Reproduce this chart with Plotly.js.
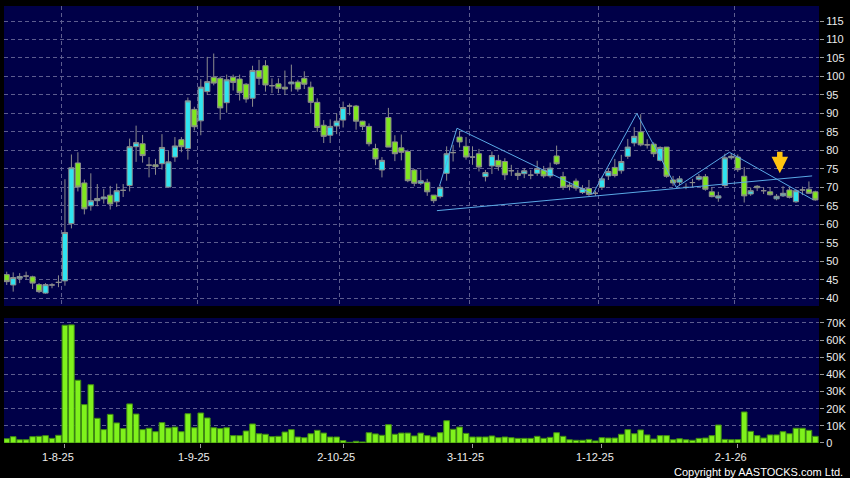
<!DOCTYPE html>
<html><head><meta charset="utf-8">
<script src="https://cdn.plot.ly/plotly-3.0.1.min.js"></script>
<style>html,body{margin:0;padding:0;background:#000;}#chart{width:850px;height:478px;}</style>
</head><body><div id="chart"></div>
<script>
// Trading sessions (HK), 21 Jul 2025 - 20 Jan 2026
const dates = [
'2025-07-21','2025-07-22','2025-07-23','2025-07-24','2025-07-25','2025-07-28','2025-07-29','2025-07-30','2025-07-31',
'2025-08-01','2025-08-04','2025-08-05','2025-08-06','2025-08-07','2025-08-08','2025-08-11','2025-08-12','2025-08-13','2025-08-14','2025-08-15',
'2025-08-18','2025-08-19','2025-08-20','2025-08-21','2025-08-22','2025-08-25','2025-08-26','2025-08-27','2025-08-28','2025-08-29',
'2025-09-01','2025-09-02','2025-09-03','2025-09-04','2025-09-05','2025-09-08','2025-09-09','2025-09-10','2025-09-11','2025-09-12',
'2025-09-15','2025-09-16','2025-09-17','2025-09-18','2025-09-19','2025-09-22','2025-09-23','2025-09-24','2025-09-25','2025-09-26',
'2025-09-29','2025-09-30',
'2025-10-02','2025-10-03','2025-10-06','2025-10-08','2025-10-09','2025-10-10','2025-10-13','2025-10-14','2025-10-15','2025-10-16',
'2025-10-17','2025-10-20','2025-10-21','2025-10-22','2025-10-23','2025-10-24','2025-10-27','2025-10-28','2025-10-30','2025-10-31',
'2025-11-03','2025-11-04','2025-11-05','2025-11-06','2025-11-07','2025-11-10','2025-11-11','2025-11-12','2025-11-13','2025-11-14',
'2025-11-17','2025-11-18','2025-11-19','2025-11-20','2025-11-21','2025-11-24','2025-11-25','2025-11-26','2025-11-27','2025-11-28',
'2025-12-01','2025-12-02','2025-12-03','2025-12-04','2025-12-05','2025-12-08','2025-12-09','2025-12-10','2025-12-11','2025-12-12',
'2025-12-15','2025-12-16','2025-12-17','2025-12-18','2025-12-19','2025-12-22','2025-12-23','2025-12-24','2025-12-29','2025-12-30',
'2025-12-31',
'2026-01-02','2026-01-05','2026-01-06','2026-01-07','2026-01-08','2026-01-09','2026-01-12','2026-01-13','2026-01-14','2026-01-15',
'2026-01-16','2026-01-19','2026-01-20'
];
const openP = [46.4,43.6,45.4,46.0,45.8,43.7,41.4,43.6,44.3,44.7,
60.2,76.6,71.2,65.0,66.4,66.9,67.9,66.1,69.2,70.5,
81.0,81.8,76.0,76.1,76.4,70.1,78.2,82.9,80.5,91.1,
88.0,95.9,99.8,99.5,92.9,99.8,99.3,97.9,94.1,101.6,
102.9,97.5,98.0,97.1,98.0,98.5,99.5,97.1,93.0,86.8,
84.1,86.6,88.2,92.0,92.0,87.9,86.5,80.5,74.7,88.9,
82.3,80.7,79.7,74.7,71.1,71.4,67.9,67.5,73.8,79.4,
83.6,81.1,78.2,79.1,72.9,75.8,77.3,77.0,74.5,73.8,
73.7,73.3,73.8,74.7,73.1,78.5,72.9,70.6,71.7,68.6,
69.7,68.4,70.0,73.1,75.4,74.5,78.4,82.0,85.0,81.5,
81.7,77.3,80.9,72.0,71.4,70.0,71.3,72.2,72.9,68.8,
67.1,70.5,78.0,78.2,73.0,68.2,70.3,69.1,68.8,66.9,
67.7,69.3,66.1,69.3,69.5,68.8];
const highP = [47.2,47.0,46.8,47.2,46.1,44.1,44.1,44.1,46.2,72.2,
78.9,79.5,72.1,73.8,70.9,69.6,70.4,71.0,70.9,83.2,
86.7,84.2,78.2,77.7,84.4,79.8,83.6,83.6,94.3,91.8,
99.3,105.3,106.2,100.0,100.5,100.5,100.5,98.2,102.9,104.5,
104.4,99.5,99.5,101.6,103.2,99.1,101.4,98.6,94.1,88.2,
88.4,90.0,93.2,92.7,92.3,88.0,87.3,81.8,78.2,91.5,
84.1,84.3,80.2,75.0,74.7,72.3,67.9,70.6,81.1,81.5,
85.3,83.6,81.1,80.4,74.7,79.7,78.8,77.9,76.1,74.7,
75.2,74.7,77.2,75.8,76.7,81.3,74.2,71.5,72.4,70.6,
72.0,69.1,72.9,75.2,77.7,78.8,83.1,86.3,89.8,83.0,
82.2,81.1,80.9,73.1,73.1,71.1,72.3,73.6,73.6,70.0,
68.8,79.1,79.3,78.9,75.5,70.0,70.6,70.0,70.0,68.2,
70.3,70.0,69.5,70.2,71.6,69.1];
const lowP = [43.6,41.8,44.1,45.0,42.5,41.4,41.2,42.7,43.0,43.4,
58.9,68.9,62.7,63.7,64.9,65.6,64.0,64.7,67.4,68.9,
76.9,76.7,72.7,73.4,74.8,70.1,76.9,79.5,77.5,85.4,
84.1,95.0,97.6,88.3,90.2,96.2,93.5,92.9,91.8,97.7,
95.9,95.5,95.5,95.0,95.9,95.9,96.6,90.0,85.0,82.0,
82.0,84.4,86.2,89.5,85.6,85.5,81.1,76.0,72.7,80.9,
77.1,77.3,71.4,70.3,70.6,67.7,65.7,67.0,71.8,77.0,
80.8,77.5,76.1,74.3,71.6,73.6,74.5,72.0,73.1,72.0,
72.5,72.2,73.1,72.5,72.5,76.1,69.3,69.2,69.1,68.2,
67.7,67.7,69.3,72.0,72.7,73.7,77.7,81.1,81.1,80.5,
78.2,77.0,72.6,70.4,70.6,69.5,70.0,71.8,69.1,67.3,
66.1,69.8,77.5,74.2,65.9,67.7,69.0,68.2,67.8,66.5,
67.4,67.0,65.8,67.9,68.2,66.4];
const closeP = [44.5,45.6,45.9,46.0,44.1,41.8,43.7,43.6,44.3,57.8,
75.3,70.1,64.2,66.4,67.0,67.4,65.5,69.1,69.2,81.0,
82.1,78.6,76.0,75.6,80.8,76.9,81.2,81.0,93.4,86.4,
97.1,98.6,98.2,91.5,99.1,98.4,95.6,93.9,101.6,99.5,
97.7,97.5,96.8,96.6,98.5,96.6,97.9,93.0,86.2,83.8,
86.5,87.9,91.6,92.0,87.9,86.5,81.8,77.7,77.3,80.9,
79.1,79.5,71.8,71.1,71.8,68.8,66.4,70.0,79.1,79.4,
82.3,78.2,78.2,75.5,74.0,78.6,75.6,73.4,74.5,73.2,
74.5,73.3,75.1,73.1,75.2,76.4,70.0,70.2,69.8,69.7,
68.1,68.4,72.3,74.3,73.2,77.0,80.9,83.8,81.5,81.5,
79.1,80.8,73.0,71.2,72.3,70.0,71.3,72.9,69.5,67.5,
67.7,78.0,78.4,74.8,67.7,69.1,69.9,69.1,68.0,67.6,
68.4,67.3,69.1,69.3,68.4,66.6];
// volume, thousands of shares
const volumeK = [2.5,3.7,1.9,1.9,3.7,3.9,4.3,2.7,4.5,68.7,
68.9,36.6,22.4,34.0,14.4,7.8,16.7,11.7,8.4,22.8,
16.9,7.8,8.6,6.6,11.9,8.8,9.3,6.6,17.1,8.9,
17.5,14.6,8.9,8.4,8.9,4.3,4.3,7.0,11.1,5.4,
5.1,3.7,3.9,6.4,7.8,3.5,3.1,5.4,7.4,5.8,
3.5,3.5,1.4,0.4,1.0,0.6,6.0,5.3,4.5,10.7,
5.1,5.8,5.8,4.1,5.8,4.3,3.5,6.0,13.0,8.0,
9.3,5.6,3.5,3.5,3.5,4.1,3.1,3.5,3.1,2.7,
2.7,2.7,3.9,2.7,3.3,6.0,3.9,1.9,1.6,1.6,
2.1,1.2,3.1,2.9,2.9,5.1,7.8,5.4,7.6,4.7,
2.3,4.3,4.3,1.9,2.5,1.9,1.6,2.7,2.9,4.3,
10.5,2.1,1.9,2.0,18.1,6.8,4.3,2.9,4.7,4.7,
6.6,5.4,8.6,8.6,7.4,3.9];
const tickDates = ['2025-08-01','2025-09-01','2025-10-02','2025-11-03','2025-12-01','2026-01-02'];
const tickLabels = ['1-8-25','1-9-25','2-10-25','3-11-25','1-12-25','2-1-26'];
const volTicksK = [0,10,20,30,40,50,60,70];
// drawn trend lines, positions in session index units
const supportIdx = [66.5, 124.5];
const supportPrice = [63.7, 73.1];
const zigzagIdx = [66.9, 69.6, 90.6, 97.4, 103.5, 111.7, 124.6];
const zigzagPrice = [70.4, 86.0, 68.2, 90.0, 70.0, 79.5, 66.7];
const arrowIdx = 119.5, arrowPrice = 73.8;

const N = dates.length;
const xRange = [-0.42, N - 1 + 0.56];
// month boundaries (grid lines sit between last and first session of month)
const monthBounds = tickDates.map(d => dates.indexOf(d) - 0.5);
const gridColor = '#5d5d8f';
const gridDash = '4px,3px';
const tickFont = {family:'Liberation Sans, Arial, sans-serif', size:11, color:'#ececec'};

const traces = [
  {type:'candlestick', x:dates, open:openP, high:highP, low:lowP, close:closeP,
   xaxis:'x', yaxis:'y', whiskerwidth:0,
   increasing:{fillcolor:'#2fe4f0', line:{color:'#8c8c8c', width:1}},
   decreasing:{fillcolor:'#7fe61f', line:{color:'#8c8c8c', width:1}},
   hoverinfo:'x+y'},
  {type:'bar', x:dates, y:volumeK.map(v=>v*1000), xaxis:'x2', yaxis:'y2',
   marker:{color:'#7ff21c', line:{color:'#3f8a12', width:1}}},
  {type:'scatter', mode:'lines', x:supportIdx, y:supportPrice, xaxis:'x3', yaxis:'y',
   line:{color:'#5aa9e6', width:1}, hoverinfo:'skip'},
  {type:'scatter', mode:'lines', x:zigzagIdx, y:zigzagPrice, xaxis:'x3', yaxis:'y',
   line:{color:'#5aa9e6', width:1}, hoverinfo:'skip'}
];

const gridAxis = (overlay, anchor) => ({type:'linear', overlaying:overlay, anchor:anchor,
  range:xRange, tickmode:'array', tickvals:monthBounds, showticklabels:false, ticks:'',
  showgrid:true, gridcolor:gridColor, griddash:gridDash, gridwidth:1,
  zeroline:false, showline:false});

const layout = {
  width:850, height:478,
  margin:{l:4, r:31, t:6, b:35},
  paper_bgcolor:'#000000', plot_bgcolor:'#000048',
  showlegend:false, bargap:0.12, boxgap:0.2, boxgroupgap:0,
  font:tickFont,
  xaxis:{type:'category', anchor:'y', domain:[0,1], range:xRange,
    rangeslider:{visible:false}, showticklabels:false, ticks:'',
    showgrid:false, zeroline:false, showline:false},
  xaxis2:{type:'category', anchor:'y2', domain:[0,1], matches:'x',
    tickmode:'array', tickvals:tickDates, ticktext:tickLabels, tickangle:0,
    ticks:'outside', ticklen:4, tickcolor:'#9a9a9a', ticklabelshift:-7,
    showgrid:false, zeroline:false, showline:false, tickfont:tickFont},
  xaxis3:gridAxis('x','y'),
  xaxis4:gridAxis('x2','y2'),
  yaxis:{domain:[0.3135,1], range:[37.91,119.06], side:'right', tick0:0, dtick:5,
    ticks:'outside', ticklen:4, tickcolor:'#9a9a9a', tickfont:tickFont,
    showgrid:true, gridcolor:gridColor, griddash:gridDash, gridwidth:1,
    zeroline:false, showline:false},
  yaxis2:{domain:[0,0.286], range:[0,72900], side:'right',
    tickmode:'array', tickvals:volTicksK.map(v=>v*1000),
    ticktext:volTicksK.map(v=>v===0?'0':v+'K'),
    ticks:'outside', ticklen:4, tickcolor:'#9a9a9a', tickfont:tickFont,
    showgrid:true, gridcolor:gridColor, griddash:gridDash, gridwidth:1,
    zeroline:false, showline:false},
  annotations:[
    {xref:'x3', yref:'y', x:arrowIdx, y:arrowPrice, ax:0, ay:-23, axref:'pixel', ayref:'pixel',
     showarrow:true, arrowhead:2, arrowwidth:5.5, arrowsize:0.6, arrowcolor:'#ffc410', text:''},
    {xref:'paper', yref:'paper', x:1.032, y:-0.066, xanchor:'right', yanchor:'middle',
     showarrow:false, text:'Copyright by AASTOCKS.com Ltd.',
     font:{family:'Liberation Sans, Arial, sans-serif', size:11, color:'#ffffff'}}
  ]
};

Plotly.newPlot('chart', traces, layout, {displayModeBar:false, staticPlot:true});
</script></body></html>
